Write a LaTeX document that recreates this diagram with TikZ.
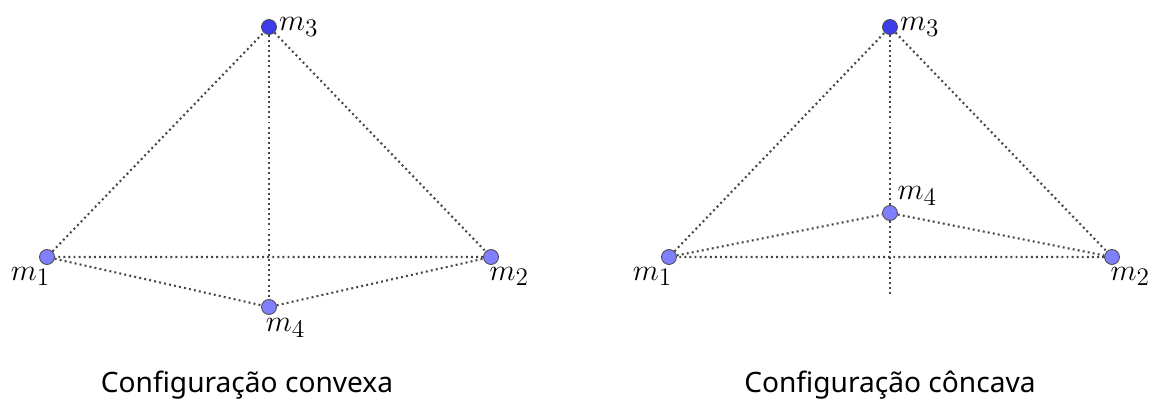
\documentclass[tikz,border=0pt]{standalone}
\usepackage{fontspec}
\setmainfont{Noto Sans}
\usepackage{tikz}
\usetikzlibrary{positioning}
\definecolor{massdark}{RGB}{60,60,235}
\definecolor{masslight}{RGB}{128,128,255}
\definecolor{edgegray}{RGB}{70,70,70}

\tikzset{
  mass/.style={circle, draw=black!70, fill=masslight, line width=0.5pt, inner sep=0pt, minimum size=8.5pt},
  topmass/.style={mass, fill=massdark},
  link/.style={edgegray, line width=1.2pt, dash pattern=on 1.1pt off 1.8pt},
  lbl/.style={font=\fontsize{19}{22}\selectfont, inner sep=1pt},
  caption/.style={font=\fontsize{16}{19}\selectfont}
}

\begin{document}
\begin{tikzpicture}[x=0.02cm, y=-0.02cm]
	\useasboundingbox (0,0) rectangle (1156,406);
	
	% ---- left: convex ----
	\node[mass]    (A1) at (47,257)  {};
	\node[mass]    (A2) at (491,257) {};
	\node[topmass] (A3) at (269,27)  {};
	\node[mass]    (A4) at (269,307) {};
	
	\draw[link] (A1) -- (A3) -- (A2) -- (A1);
	\draw[link] (A1) -- (A4) -- (A2);
	\draw[link] (A3) -- (A4);
	
	\node[lbl, anchor=west]       at (A3.east)   {$m_3$};
	\node[lbl, anchor=north east] at ([xshift=3pt]A1.south) {$m_1$};
	\node[lbl, anchor=north west] at ([xshift=-2pt]A2.south) {$m_2$};
	\node[lbl, anchor=north west] (L4) at ([xshift=-3pt,yshift=-1pt]A4.south) {$m_4$};
	
	\node[caption] (capL) at (247,385) {Configuração convexa};
	
	% ---- right: concave ----
	\node[mass]    (B1) at (669,257)  {};
	\node[mass]    (B2) at (1112,257) {};
	\node[topmass] (B3) at (890,27)   {};
	\node[mass]    (B4) at (890,213)  {};
	\coordinate    (B0) at (890,295);
	
	\draw[link] (B1) -- (B3) -- (B2) -- (B1);
	\draw[link] (B1) -- (B4) -- (B2);
	\draw[link] (B3) -- (B4) -- (B0);
	
	\node[lbl, anchor=west]       at (B3.east)   {$m_3$};
	\node[lbl, anchor=north east] at ([xshift=3pt]B1.south) {$m_1$};
	\node[lbl, anchor=north west] at ([xshift=-2pt]B2.south) {$m_2$};
	\node[lbl, anchor=south west] at (B4.north east) {$m_4$};
	
	\node[caption] (capR) at (890,385) {Configuração côncava};
	
\end{tikzpicture}
\end{document}
